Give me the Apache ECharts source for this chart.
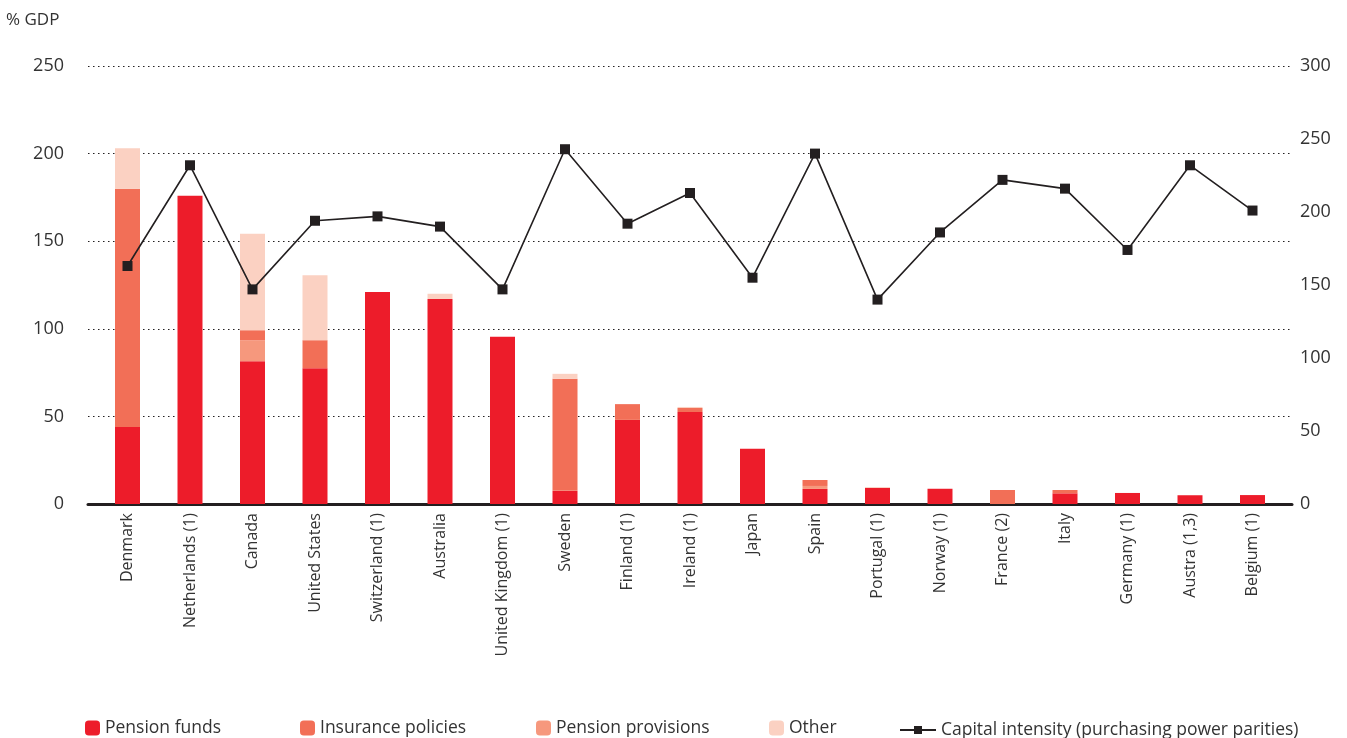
<!DOCTYPE html>
<html><head><meta charset="utf-8">
<script src="https://cdn.jsdelivr.net/npm/echarts@6/dist/echarts.min.js"></script>
<style>html,body{margin:0;padding:0;background:#fff}#c{width:1347px;height:738px}</style>
</head><body><div id="c"></div>
<script>
const categories = ["Denmark","Netherlands (1)","Canada","United States","Switzerland (1)","Australia","United Kingdom (1)","Sweden","Finland (1)","Ireland (1)","Japan","Spain","Portugal (1)","Norway (1)","France (2)","Italy","Germany (1)","Austra (1,3)","Belgium (1)"];
const pensionFunds      = [44, 176, 81.5, 77.5, 121, 117, 95.5, 7.5, 48, 52.5, 31.5, 8.6, 9.2, 8.7, 0, 6.1, 6.3, 5, 5.1];
const pensionProvisions = [0, 0, 12, 0, 0, 0, 0, 0, 0, 0, 0, 1.7, 0, 0, 0, 0, 0, 0, 0];
const insurancePolicies = [136, 0, 5.7, 16, 0, 0, 0, 64, 9, 2.3, 0, 3.4, 0, 0, 8, 1.9, 0, 0, 0];
const other             = [23, 0, 55, 37, 0, 3, 0, 2.8, 0, 0.6, 0, 0, 0.5, 0, 0, 0, 0, 0, 0];
const capitalIntensity  = [163, 232, 147, 194, 197, 190, 147, 243, 192, 213, 155, 240, 140, 186, 222, 216, 174, 232, 201];
const leftTicks = [0, 250, 50];
const rightTicks = [0, 300, 50];

const FONT = "'Open Sans', 'Noto Sans', sans-serif";
const TXT = '#333333';
const C = {pf:'#ED1C2A', ip:'#F26F57', pp:'#F6987D', ot:'#FBD1C2', line:'#231F20'};

const chart = echarts.init(document.getElementById('c'));
const legendBase = (name, left, extra) => Object.assign({
  data:[name], left:left, top:719, padding:0, itemWidth:15, itemHeight:15, itemGap:0,
  textStyle:{fontFamily:FONT, fontSize:17.5, color:TXT, padding:[0,0,0,0]}, selectedMode:false
}, extra||{});

const barSeries = (name, data, color) => ({
  name, type:'bar', stack:'s', data, xAxisIndex:1, yAxisIndex:2, barWidth:25,
  itemStyle:{color, borderWidth:0},
  emphasis:{disabled:true}
});

chart.setOption({
  animation:false,
  textStyle:{fontFamily:FONT},
  graphic:[{type:'text', left:6, top:12, style:{text:'% GDP', font:'17px '+FONT, fill:TXT}}],
  legend:[
    legendBase('Pension funds', 85),
    legendBase('Insurance policies', 300),
    legendBase('Pension provisions', 536),
    legendBase('Other', 769),
    legendBase('Capital intensity (purchasing power parities)', 899, {itemWidth:36, itemHeight:10, top:721})
  ],
  grid:[
    {left:88, right:55, top:66, bottom:234},
    {left:96.25, right:63.25, top:66, bottom:234}
  ],
  xAxis:[
    {type:'value', gridIndex:0, min:0, max:1, axisLabel:{show:false}, axisTick:{show:false}, splitLine:{show:false},
     axisLine:{show:true, lineStyle:{color:'#231F20', width:3}}},
    {type:'category', gridIndex:1, data:categories, axisLine:{show:false}, axisTick:{show:false},
     axisLabel:{rotate:90, margin:9, fontSize:16, color:TXT, fontFamily:FONT, interval:0}}
  ],
  yAxis:[
    {type:'value', gridIndex:0, min:leftTicks[0], max:leftTicks[1], interval:leftTicks[2], position:'left',
     axisLine:{show:false}, axisTick:{show:false},
     axisLabel:{fontSize:18, color:TXT, margin:24, fontFamily:FONT},
     splitLine:{show:true, lineStyle:{type:[1.5,3.5], color:'#231F20', width:1.2}}},
    {type:'value', gridIndex:0, min:rightTicks[0], max:rightTicks[1], interval:rightTicks[2], position:'right',
     axisLine:{show:false}, axisTick:{show:false}, splitLine:{show:false},
     axisLabel:{fontSize:18, color:TXT, margin:8, fontFamily:FONT}},
    {type:'value', gridIndex:1, min:leftTicks[0], max:leftTicks[1], show:false, splitLine:{show:false}},
    {type:'value', gridIndex:1, min:rightTicks[0], max:rightTicks[1], show:false, splitLine:{show:false}}
  ],
  series:[
    barSeries('Pension funds', pensionFunds, C.pf),
    barSeries('Pension provisions', pensionProvisions, C.pp),
    barSeries('Insurance policies', insurancePolicies, C.ip),
    barSeries('Other', other, C.ot),
    {name:'Capital intensity (purchasing power parities)', type:'line', data:capitalIntensity,
     xAxisIndex:1, yAxisIndex:3, symbol:'rect', symbolSize:10, z:5,
     lineStyle:{color:C.line, width:1.6}, itemStyle:{color:C.line}, emphasis:{disabled:true}}
  ]
});
</script></body></html>
